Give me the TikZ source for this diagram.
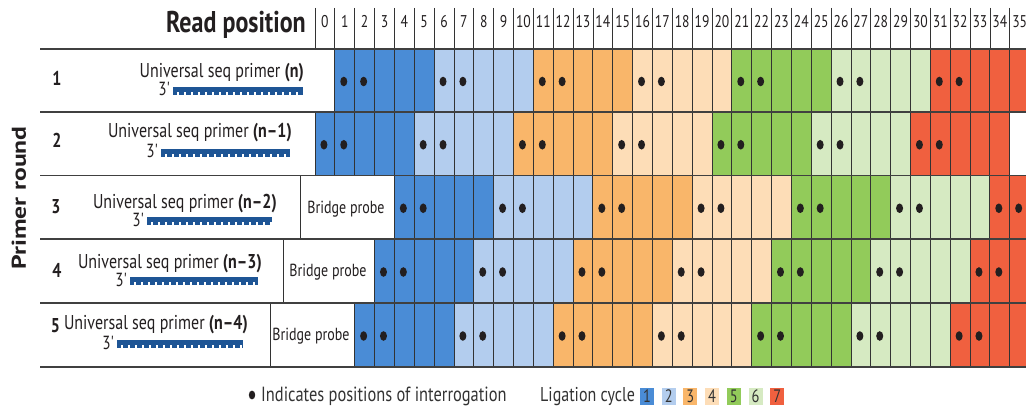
\documentclass[tikz,border=0pt]{standalone}
\usepackage{fontspec}
\setmainfont{PT Sans}[FakeStretch=0.8]
\definecolor{c1}{HTML}{4A8CD6}
\definecolor{c2}{HTML}{B3CDEE}
\definecolor{c3}{HTML}{F9B66A}
\definecolor{c4}{HTML}{FDDDB7}
\definecolor{c5}{HTML}{92CB5A}
\definecolor{c6}{HTML}{D6EAC2}
\definecolor{c7}{HTML}{F0603F}
\definecolor{barblue}{HTML}{1E5595}
\definecolor{ink}{HTML}{231F20}
\tikzset{
  cellline/.style={draw=black!80, line width=0.9pt},
  rowline/.style={draw=black!75, line width=1.3pt},
  hdrline/.style={draw=black!80, line width=0.8pt},
  dotmark/.style={fill=ink},
  hdrnum/.style={font=\fontsize{17}{17}\selectfont, text=ink, inner sep=0pt, anchor=base},
  rownum/.style={font=\fontsize{20}{20}\selectfont\bfseries, text=ink, inner sep=0pt},
  primertxt/.style={font=\fontsize{20}{20}\selectfont, text=ink, inner sep=0pt, anchor=base east},
  threetxt/.style={font=\fontsize{19}{19}\selectfont, text=ink, inner sep=0pt, anchor=base east},
  bridgetxt/.style={font=\fontsize{17.5}{17.5}\selectfont, text=ink, inner sep=0pt},
  legtxt/.style={font=\fontsize{20.5}{20.5}\selectfont, text=black!80, inner sep=0pt, anchor=base west},
  legbox/.style={minimum width=14pt, minimum height=17pt, inner sep=0pt, font=\fontsize{18}{18}\selectfont, text=black!80},
}
\newcommand\primerbar[4]{% name x1 x2 ytop
  \fill[barblue] (#2,#4) rectangle (#3,{#4+8});
  \pgfmathtruncatemacro\nteeth{int((#3-#2-6)/7)}
  \foreach \i in {0,...,\nteeth}{
    \fill[white] ({#2+4+7*\i},{#4+5}) rectangle ++(1.6,3.2);
  }
  \coordinate (#1) at (#2,{#4+8});
}
\begin{document}
\begin{tikzpicture}[x=1pt,y=-1pt]
\clip (0,0) rectangle (1026,409);
\fill[white] (0,0) rectangle (1026,409);

% header
\node[font=\fontsize{30}{30}\selectfont\bfseries, text=ink, inner sep=0pt, anchor=base east] (readpos) at (306,33) {Read position};
\foreach \k in {0,...,35}{
  \draw[hdrline] ({315+\k*19.85},8) -- ({315+\k*19.85},49);
  \node[hdrnum] (h\k) at ({315+(\k+0.5)*19.85},28) {\k};
}

% cells
\foreach \r/\tp/\bt/\s/\e in {1/49/112/1/35, 2/112/175.5/0/34, 3/175.5/239/4/35, 4/239/303/3/35, 5/303/367/2/35}{
  \foreach \k in {\s,...,\e}{
    \pgfmathtruncatemacro\cyc{int((\k-\s)/5)+1}
    \pgfmathsetmacro\xa{315+\k*19.85}
    \draw[cellline, fill=c\cyc] (\xa,\tp) rectangle ({\xa+19.85},\bt);
  }
}
% dots
\foreach \r/\tp/\bt/\s/\e in {1/49/112/1/35, 2/112/175.5/0/34, 3/175.5/239/4/35, 4/239/303/3/35, 5/303/367/2/35}{
  \foreach \k in {\s,...,\e}{
    \pgfmathtruncatemacro\ph{mod(\k-\s,5)}
    \ifnum\ph<2
      \fill[dotmark] ({315+(\k+0.45)*19.85},{(\tp+\bt)/2+1}) ellipse [x radius=3.5pt, y radius=4.8pt];
    \fi
  }
}

% bridge probe boxes
\draw[cellline] (300,175.5) -- (300,239);
\draw[cellline] (283,239) -- (283,303);
\draw[cellline] (270,303) -- (270,367);
\node[bridgetxt] (bp3) at (346,209) {Bridge probe};
\node[bridgetxt] (bp4) at (328,272) {Bridge probe};
\node[bridgetxt] (bp5) at (311,336) {Bridge probe};

% row lines
\foreach \y in {49,112,175.5,239,303,367}{
  \draw[rowline] (40,\y) -- (1026,\y);
}

% Primer round label
\node[font=\fontsize{20}{20}\selectfont\bfseries, text=ink, inner sep=0pt, rotate=90] (prlabel) at (19,198) {\scalebox{1.6}[1]{Primer round}};

% row numbers
\node[rownum] (n1) at (57,78) {1};
\node[rownum] (n2) at (57,140) {2};
\node[rownum] (n3) at (56,207) {3};
\node[rownum] (n4) at (57,270) {4};
\node[rownum] (n5) at (55.5,326) {5};

% primer texts
\node[primertxt] (p1) at (304,78) {Universal seq primer \textbf{(n)}};
\node[primertxt] (p2) at (292,138) {Universal seq primer \textbf{(n–1)}};
\node[primertxt] (p3) at (277,208) {Universal seq primer \textbf{(n–2)}};
\node[primertxt] (p4) at (262,268) {Universal seq primer \textbf{(n–3)}};
\node[primertxt] (p5) at (248,329) {Universal seq primer \textbf{(n–4)}};

% primer bars
\primerbar{b1}{173}{303}{87}
\primerbar{b2}{161}{290}{149}
\primerbar{b3}{147}{272}{217}
\primerbar{b4}{130}{258}{277}
\primerbar{b5}{117}{243}{340}
\node[threetxt] (t1) at (171,96) {3\textquotesingle};
\node[threetxt] (t2) at (159,158) {3\textquotesingle};
\node[threetxt] (t3) at (145,226) {3\textquotesingle};
\node[threetxt] (t4) at (128,286) {3\textquotesingle};
\node[threetxt] (t5) at (115,349) {3\textquotesingle};

% legend
\fill[ink] (252,395) ellipse [x radius=3.2pt, y radius=4.4pt];
\node[legtxt] (leg1) at (261,401) {Indicates positions of interrogation};
\node[legtxt, font=\fontsize{20}{20}\selectfont] (leg2) at (540,401) {Ligation cycle};
\foreach \i in {1,...,7}{
  \node[legbox, fill=c\i] (lb\i) at ({647+21.7*(\i-1)},396.5) {\i};
}
\end{tikzpicture}
\end{document}
